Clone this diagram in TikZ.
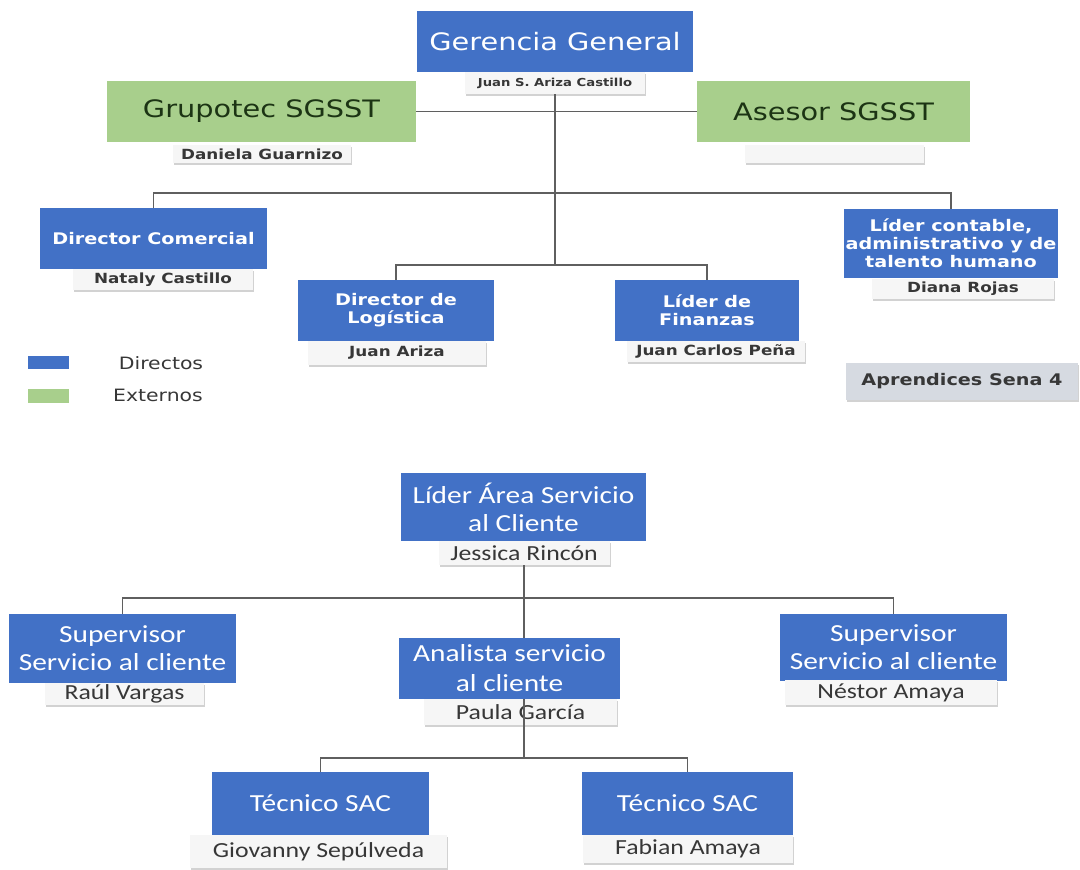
\documentclass[tikz,border=0pt]{standalone}
\usepackage{fontspec}
\usetikzlibrary{shadows}
\newfontfamily\verdfont[FakeStretch=1.2]{DejaVu Sans}
\newfontfamily\calfont[FakeStretch=1.2]{Carlito}
\definecolor{dirblue}{RGB}{66,113,198}
\definecolor{extgreen}{RGB}{168,207,140}
\definecolor{namefill}{RGB}{246,246,246}
\definecolor{linegray}{RGB}{95,95,95}
\definecolor{textgray}{RGB}{55,55,55}
\definecolor{senagray}{RGB}{214,218,225}
\definecolor{darkgreen}{RGB}{28,52,20}
\newcommand{\tsz}{\verdfont\bfseries\fontsize{16}{18}\selectfont}
\newcommand{\nsz}{\verdfont\bfseries\fontsize{14}{16}\selectfont}
\newcommand{\bsz}{\calfont\fontsize{24.5}{28}\selectfont}
\newcommand{\bnsz}{\calfont\fontsize{21.5}{24}\selectfont}
\tikzset{
	dirbox/.style={fill=dirblue, text=white, inner sep=0pt, align=center},
	extbox/.style={fill=extgreen, text=darkgreen, inner sep=0pt, font=\verdfont\fontsize{24}{28}\selectfont},
	namebox/.style={fill=namefill, text=textgray, inner sep=0pt, drop shadow={shadow xshift=1pt, shadow yshift=-1.5pt, opacity=.35}},
	conn/.style={draw=linegray, line width=1.1pt},
}

\begin{document}
\begin{tikzpicture}[x=1pt,y=-1pt]
	\useasboundingbox[fill=white] (0,0) rectangle (1080,870);
	% direccion
	\node[dirbox, minimum width=276, minimum height=61, font=\verdfont\fontsize{24}{28}\selectfont] (gg) at (555,41.5) {Gerencia General};
	\node[namebox, minimum width=180, minimum height=22, font=\verdfont\bfseries\fontsize{11}{13}\selectfont] (ggn) at (555,83) {Juan S. Ariza Castillo};
	\node[extbox, minimum width=309, minimum height=61] (grupotec) at (261.5,111.5) {Grupotec SGSST};
	\node[namebox, minimum width=178, minimum height=18, font=\nsz] (gn) at (262,154) {Daniela Guarnizo};
	\node[extbox, minimum width=273, minimum height=61] (asesor) at (833.5,111.5) {Asesor SGSST};
	\node[namebox, minimum width=179, minimum height=18] (asn) at (834.5,154) {};
	\node[dirbox, minimum width=227, minimum height=61, font=\tsz] (dc) at (153.5,238.5) {Director Comercial};
	\node[namebox, minimum width=180, minimum height=21, font=\nsz] (dcn) at (163,279.5) {Nataly Castillo};
	\node[dirbox, minimum width=214, minimum height=69, font=\tsz] (lc) at (951,243.5) {L\'ider contable,\\administrativo y de\\talento humano};
	\node[namebox, minimum width=182, minimum height=20, font=\nsz] (lcn) at (963,289) {Diana Rojas};
	\node[dirbox, minimum width=196, minimum height=61, font=\tsz] (dl) at (396,310.5) {Director de\\Log\'istica};
	\node[namebox, minimum width=178, minimum height=24, font=\nsz] (dln) at (397,353) {Juan Ariza};
	\node[dirbox, minimum width=184, minimum height=61, font=\tsz] (fin) at (707,310.5) {L\'ider de\\Finanzas};
	\node[namebox, minimum width=178, minimum height=21, font=\nsz] (finn) at (716,351.5) {Juan Carlos Pe\~na};
	\node[namebox, fill=senagray, minimum width=232, minimum height=37, font=\tsz] (sena) at (962,381.5) {Aprendices Sena 4};
	% leyenda
	\node[fill=dirblue, minimum width=41, minimum height=13, inner sep=0pt] (legd) at (48.5,362.5) {};
	\node[text=textgray, font=\verdfont\fontsize{17}{20}\selectfont] (legdt) at (161,363) {Directos};
	\node[fill=extgreen, minimum width=41, minimum height=14, inner sep=0pt] (lege) at (48.5,396) {};
	\node[text=textgray, font=\verdfont\fontsize{17}{20}\selectfont] (leget) at (158,395) {Externos};
	\coordinate (b1) at (555,193);
	\coordinate (b2) at (555,265);
	\draw[conn] (ggn.south) -- (b2);
	\draw[conn] (grupotec.east) -- (asesor.west);
	\draw[conn] (dc.north) |- (b1) -| (lc.north);
	\draw[conn] (dl.north) |- (b2) -| (fin.north);
	% servicio al cliente
	\node[dirbox, minimum width=245, minimum height=68, font=\bsz] (lac) at (523.5,507) {L\'ider \'Area Servicio\\al Cliente};
	\node[namebox, minimum width=171, minimum height=24, font=\bnsz] (lacn) at (524,553) {Jessica Rinc\'on};
	\node[dirbox, minimum width=227, minimum height=69, font=\bsz] (supl) at (122.5,648.5) {Supervisor\\Servicio al cliente};
	\node[namebox, minimum width=159, minimum height=22, font=\bnsz] (supln) at (124.5,694) {Ra\'ul Vargas};
	\node[dirbox, minimum width=221, minimum height=61, font=\calfont\fontsize{24.5}{30}\selectfont] (ana) at (509.5,668.5) {Analista servicio\\al cliente};
	\node[namebox, minimum width=193, minimum height=26, font=\bnsz] (anan) at (520.5,712) {Paula Garc\'ia};
	\node[dirbox, minimum width=227, minimum height=67, font=\bsz] (supr) at (893.5,647.5) {Supervisor\\Servicio al cliente};
	\node[namebox, minimum width=212, minimum height=25, font=\bnsz] (suprn) at (891,692.5) {N\'estor Amaya};
	\node[dirbox, minimum width=217, minimum height=63, font=\bsz] (tec1) at (320.5,803.5) {T\'ecnico SAC};
	\node[namebox, minimum width=257, minimum height=33, font=\bnsz] (tec1n) at (318.5,851.5) {Giovanny Sep\'ulveda};
	\node[dirbox, minimum width=211, minimum height=63, font=\bsz] (tec2) at (687.5,803.5) {T\'ecnico SAC};
	\node[namebox, minimum width=210, minimum height=28, font=\bnsz] (tec2n) at (688,849) {Fabian Amaya};
	\coordinate (b3) at (524,598);
	\coordinate (b4) at (524,758);
	\draw[conn] (lacn.south) -- (lacn.south |- ana.north);
	\draw[conn] (supl.north) |- (b3) -| (supr.north);
	\draw[conn] (b4 |- ana.south) -- (b4);
	\draw[conn] (tec1.north) |- (b4) -| (tec2.north);
\end{tikzpicture}
\end{document}
